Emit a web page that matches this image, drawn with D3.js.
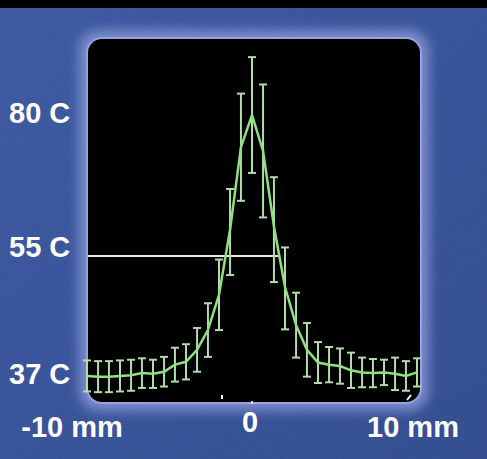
<!DOCTYPE html>
<html lang="en">
<head>
<meta charset="UTF-8">
<title>Temperature profile across the lesion</title>
<style>
  html, body { margin: 0; padding: 0; background: #000; }
  svg { display: block; }
  .label { font-family: "Liberation Sans", Arial, sans-serif; font-weight: bold; fill: #fff; font-size: 29px; }
</style>
</head>
<body>
<svg id="chart" width="487" height="459"></svg>
<script src="https://cdn.jsdelivr.net/npm/d3@7/dist/d3.min.js"></script>
<script>
// distance from the centre (mm)
const positions = [-10, -9.33, -8.67, -8, -7.33, -6.67, -6, -5.33, -4.67, -4, -3.33,
    -2.67, -2, -1.33, -0.67, 0, 0.67, 1.33, 2, 2.67, 3.33, 4, 4.67, 5.33, 6, 6.67,
    7.33, 8, 8.67, 9.33, 10];
// measured temperature (C)
const temps = [38.0, 37.9, 37.9, 38.0, 38.1, 38.4, 38.3, 38.6, 39.6, 40.0, 41.7,
    44.5, 49.5, 59.9, 75.3, 81.3, 74.6, 60.5, 50.6, 45.2, 41.7, 39.9, 39.6, 39.4,
    38.8, 38.5, 38.4, 38.5, 38.3, 38.0, 38.5];
// +/- error (C)
const errors = [2.2, 2.2, 2.2, 2.2, 2.2, 2.1, 2.0, 2.1, 2.4, 2.5, 3.1, 3.8, 5.0,
    7.6, 10.0, 10.8, 12.4, 9.2, 6.0, 4.6, 3.8, 2.9, 2.5, 2.5, 2.5, 2.1, 2.0, 1.8,
    2.3, 2.1, 2.0];
const tempTicks = [80, 55, 37];
const tempLabels = ['80 C', '55 C', '37 C'];
const distTicks = [-10, 0, 10];
const distLabels = ['-10 mm', '0', '10 mm'];
const threshold = 55;

const svg = d3.select('#chart');
const W = 487, H = 459;
const panel = { x: 88, y: 39, w: 332, h: 363 };

const x = d3.scaleLinear().domain([-10, 10]).range([87, 417]);
// the temperature axis of the original is not linear, so use a piecewise scale
const y = d3.scaleLinear().domain([37, 55, 80]).range([383, 256, 122]);

const defs = svg.append('defs');
defs.append('filter').attr('id', 'glow')
    .attr('x', '-20%').attr('y', '-20%').attr('width', '140%').attr('height', '140%')
    .append('feGaussianBlur').attr('stdDeviation', 6);

const noise = defs.append('filter').attr('id', 'noise');
noise.append('feTurbulence').attr('type', 'fractalNoise')
    .attr('baseFrequency', 0.9).attr('numOctaves', 1).attr('seed', 3);
noise.append('feColorMatrix').attr('type', 'matrix')
    .attr('values', '0 0 0 0 1  0 0 0 0 1  0 0 0 0 1  0 0 0 0.5 -0.1');

const bg = defs.append('linearGradient').attr('id', 'bg')
    .attr('x1', 0).attr('y1', 0).attr('x2', 1).attr('y2', 1);
bg.append('stop').attr('offset', 0).attr('stop-color', '#3a56a0');
bg.append('stop').attr('offset', 1).attr('stop-color', '#2f4a8e');

// background
svg.append('rect').attr('width', W).attr('height', H).attr('fill', 'url(#bg)');
svg.append('rect').attr('width', W).attr('height', H)
    .attr('filter', 'url(#noise)').attr('opacity', 0.18);
svg.append('rect').attr('width', W).attr('height', 8).attr('fill', '#000');

// glowing frame and black panel
svg.append('rect')
    .attr('x', panel.x - 9).attr('y', panel.y - 9)
    .attr('width', panel.w + 18).attr('height', panel.h + 18)
    .attr('rx', 20).attr('fill', '#8796d6').attr('opacity', 0.85)
    .attr('filter', 'url(#glow)');
svg.append('rect')
    .attr('x', panel.x - 2).attr('y', panel.y - 2)
    .attr('width', panel.w + 4).attr('height', panel.h + 4)
    .attr('rx', 16).attr('fill', '#97a3de');
svg.append('rect')
    .attr('x', panel.x).attr('y', panel.y)
    .attr('width', panel.w).attr('height', panel.h)
    .attr('rx', 14).attr('fill', '#000');

const plot = svg.append('g');

// 55 C isotherm: from the panel edge to where the right flank crosses it
let cross = positions[positions.length - 1];
for (let i = 15; i < temps.length - 1; i++) {
    if (temps[i] >= threshold && temps[i + 1] < threshold) {
        const t = (temps[i] - threshold) / (temps[i] - temps[i + 1]);
        cross = positions[i] + t * (positions[i + 1] - positions[i]);
        break;
    }
}
plot.append('line')
    .attr('x1', panel.x).attr('x2', x(cross))
    .attr('y1', y(threshold)).attr('y2', y(threshold))
    .attr('stroke', '#e8e8e8').attr('stroke-width', 2);

const data = positions.map((p, i) => ({ p, t: temps[i], e: errors[i] }));

// error bars
const bars = plot.selectAll('.bar')
    .data(data)
    .join('g')
    .attr('class', 'bar')
    .attr('stroke', '#b2dcaa')
    .attr('stroke-width', 2);
bars.append('line')
    .attr('x1', d => x(d.p)).attr('x2', d => x(d.p))
    .attr('y1', d => y(d.t + d.e)).attr('y2', d => y(d.t - d.e));
bars.append('line')
    .attr('x1', d => x(d.p) - 4).attr('x2', d => x(d.p) + 4)
    .attr('y1', d => y(d.t + d.e)).attr('y2', d => y(d.t + d.e));
bars.append('line')
    .attr('x1', d => x(d.p) - 4).attr('x2', d => x(d.p) + 4)
    .attr('y1', d => y(d.t - d.e)).attr('y2', d => y(d.t - d.e));

// profile line
plot.append('path')
    .datum(data)
    .attr('fill', 'none')
    .attr('stroke', '#8fe07f')
    .attr('stroke-width', 2.5)
    .attr('d', d3.line().x(d => x(d.p)).y(d => y(d.t)));

// small white tick marks under the panel
plot.append('line').attr('x1', 222).attr('x2', 222).attr('y1', 395).attr('y2', 399)
    .attr('stroke', '#fff').attr('stroke-width', 2);
plot.append('line').attr('x1', x(0)).attr('x2', x(0)).attr('y1', 401).attr('y2', 404)
    .attr('stroke', '#fff').attr('stroke-width', 1.5);
plot.append('line').attr('x1', 407).attr('x2', 411).attr('y1', 400).attr('y2', 395)
    .attr('stroke', '#fff').attr('stroke-width', 2);

// temperature labels
svg.selectAll('.tlabel')
    .data(tempTicks)
    .join('text')
    .attr('class', 'label tlabel')
    .attr('x', 9)
    .attr('y', d => y(d) + 1)
    .text((d, i) => tempLabels[i]);

// distance labels
const dx = [-15, -2, -4];
const dy = [437, 432, 437];
svg.selectAll('.dlabel')
    .data(distTicks)
    .join('text')
    .attr('class', 'label dlabel')
    .attr('text-anchor', 'middle')
    .attr('x', (d, i) => x(d) + dx[i])
    .attr('y', (d, i) => dy[i])
    .text((d, i) => distLabels[i]);
</script>
</body>
</html>
